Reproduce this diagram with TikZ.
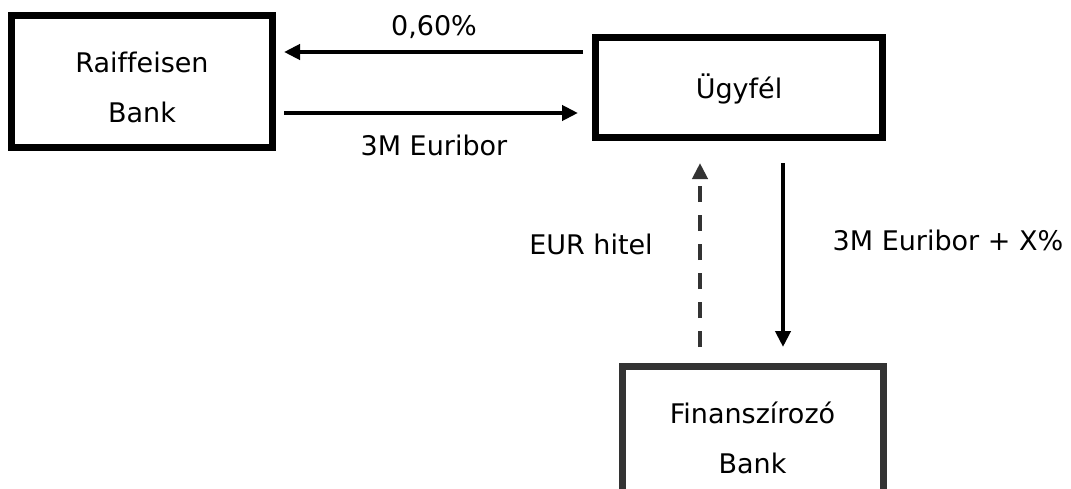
\documentclass[tikz,border=0pt]{standalone}
\usepackage{fontspec}
\setmainfont[Ligatures = NoCommon]{DejaVu Sans}
\usepackage{tikz}
\usepackage{xcolor}
\usetikzlibrary{arrows.meta}
\usetikzlibrary{calc}
\usetikzlibrary{positioning}

\definecolor{darkgrey}{HTML}{333333}
\newcommand{\topstrut}{\rule{0pt}{24pt}}

\begin{document}
\begin{tikzpicture}
  [
    node distance = 258.75pt,
    box/.style = {thick, rectangle, draw, line width = 5.25pt,
                  font = \fontsize{20.25pt}{37.5pt}\selectfont, align = center},
    bank/.style = {box, minimum width = 195.75pt, minimum height = 99pt},
    client/.style = {box, minimum width = 215.25pt, minimum height = 75pt},
    lbl/.style = {rectangle, font = \fontsize{20.25pt}{24pt}\selectfont, align = center},
    arrow/.style = {> = {Triangle[length = 12pt, width = 11.25pt]}, line width = 3pt},
    arrow-out/.style = {arrow, ->},
    arrow-loan/.style = {arrow-out, draw = darkgrey, dash pattern = on 12pt off 9.75pt},
  ]
  \path[use as bounding box, clip] (-106.5pt, -305.625pt) rectangle (696.75pt, 61.125pt);

  \node[bank] (raiffeisen) {\topstrut Raiffeisen\\Bank};
  \node[client] [right of = raiffeisen, xshift = 189pt, yshift = -4.5pt] (ugyfel) {\rule{0pt}{20pt}Ügyfél};
  \node[bank, draw = darkgrey] [below of = ugyfel, xshift = 10.125pt] (finanszirozo) {\topstrut Finanszírozó\\Bank};

  \coordinate (fee_start) at ([yshift = 26.625pt]ugyfel.west);
  \coordinate (euribor_start) at ([yshift = -23.625pt]raiffeisen.east);
  \coordinate (loan_x) at ([xshift = -29.25pt]ugyfel.south);
  \coordinate (repay_x) at ([xshift = 33pt]ugyfel.south);

  \draw[arrow-out, shorten <= 6.75pt, shorten >= 6pt] (fee_start) -- (raiffeisen.east |- fee_start)
      node[lbl, midway, yshift = 18.75pt] (fee_lbl) {0,60\%};
  \draw[arrow-out, shorten <= 6pt, shorten >= 10.5pt] (euribor_start) -- (ugyfel.west |- euribor_start)
      node[lbl, midway, yshift = -24pt] (euribor_lbl) {3M Euribor};
  \draw[arrow-loan, shorten <= 12pt, shorten >= 16.5pt] (finanszirozo.north -| loan_x) -- (loan_x)
      node[lbl, midway, xshift = -81.75pt, yshift = 6pt] (loan_lbl) {EUR hitel};
  \draw[arrow-out, shorten <= 16.5pt, shorten >= 12pt] (repay_x) -- (finanszirozo.north -| repay_x)
      node[lbl, midway, xshift = 123.75pt, yshift = 9pt] (repay_lbl) {3M Euribor + X\%};
\end{tikzpicture}
\end{document}
